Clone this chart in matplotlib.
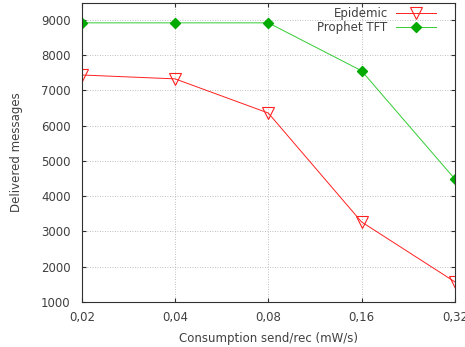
import matplotlib
matplotlib.use("Agg")
import matplotlib.pyplot as plt

# data
x_labels = ["0,02", "0,04", "0,08", "0,16", "0,32"]
epidemic = [7440, 7330, 6360, 3270, 1570]
prophet_tft = [8920, 8920, 8920, 7560, 4490]

plt.rcParams["font.family"] = "DejaVu Sans"
txt = "#404040"

fig = plt.figure(figsize=(4.65, 3.47), dpi=100)
ax = fig.add_axes([0.176, 0.130, 0.802, 0.861])

xs = range(len(x_labels))
ax.plot(xs, epidemic, color="#ff2020", lw=0.7, marker="v", ms=9,
        mfc="none", mec="#ff2020", mew=0.8, label="Epidemic")
ax.plot(xs, prophet_tft, color="#33cc33", lw=0.7, marker="D", ms=5,
        mfc="#00aa00", mec="#00aa00", label="Prophet TFT")

ax.set_xlim(0, len(x_labels) - 1)
ax.set_ylim(1000, 9480)
ax.set_xticks(list(xs))
ax.set_xticklabels(x_labels)
ax.set_yticks(range(1000, 9001, 1000))

ax.grid(True, color="#aaaaaa", linestyle=(0, (1, 2)), linewidth=0.6)
ax.tick_params(direction="in", top=True, right=True, length=3,
               labelsize=8.5, colors="#303030", labelcolor=txt)
ax.tick_params(axis="y", pad=8)
ax.tick_params(axis="x", pad=6.5)
for s in ax.spines.values():
    s.set_color("#303030")
    s.set_linewidth(0.8)

ax.set_xlabel("Consumption send/rec (mW/s)", fontsize=8.5, color=txt, labelpad=6)
ax.set_ylabel("Delivered messages", fontsize=8.5, color=txt, labelpad=13)

leg = ax.legend(loc="upper right", frameon=False, markerfirst=False,
                fontsize=8.5, handlelength=3.4, borderaxespad=0.3,
                labelspacing=0.08, handletextpad=0.7,
                bbox_to_anchor=(0.972, 1.014))
for t in leg.get_texts():
    t.set_color(txt)

fig.savefig("out.png", dpi=100)
